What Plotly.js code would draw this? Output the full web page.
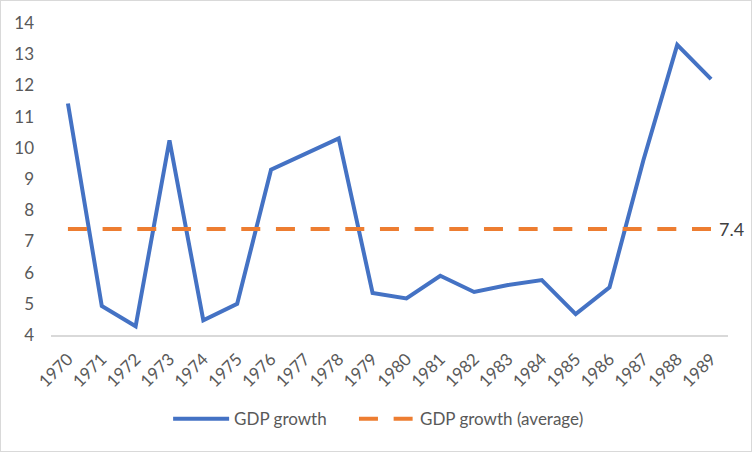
<!DOCTYPE html>
<html>
<head>
<meta charset="utf-8">
<script src="https://cdn.plot.ly/plotly-3.0.1.min.js"></script>
<style>
  html, body { margin: 0; padding: 0; background: #fff; }
  #chart { width: 750px; height: 450px; border: 1px solid #d9d9d9; }
</style>
</head>
<body>
<div id="chart"></div>
<script>
const years = ['1970','1971','1972','1973','1974','1975','1976','1977','1978','1979',
               '1980','1981','1982','1983','1984','1985','1986','1987','1988','1989'];
const gdpGrowth = [11.42, 4.93, 4.28, 10.24, 4.47, 5.0, 9.3, 9.8, 10.3, 5.35,
                   5.17, 5.9, 5.38, 5.6, 5.76, 4.67, 5.53, 9.6, 13.3, 12.2];
const averageValue = 7.4;
const gdpAverage = years.map(() => averageValue);
const yTicks = [4, 5, 6, 7, 8, 9, 10, 11, 12, 13, 14];

const fontFam = 'Lato, "Open Sans", "Liberation Sans", sans-serif';
const fs = 17;

const traces = [
  {
    x: years, y: gdpGrowth, type: 'scatter', mode: 'lines', name: 'GDP growth',
    line: { color: '#4472C4', width: 4 }, cliponaxis: false, legend: 'legend'
  },
  {
    x: years, y: gdpAverage, type: 'scatter', mode: 'lines', name: 'GDP growth (average)',
    cliponaxis: false, legend: 'legend2',
    line: { color: '#ED7D31', width: 4, dash: '19px,15.67px' }
  }
];

const legendBase = {
  orientation: 'h', xanchor: 'left', y: -0.27, yanchor: 'middle',
  font: { family: fontFam, size: fs, color: '#595959' },
  itemwidth: 56, bgcolor: 'rgba(0,0,0,0)'
};

const layout = {
  width: 750, height: 450,
  margin: { l: 50, r: 23, t: 21.5, b: 116 },
  paper_bgcolor: '#fff', plot_bgcolor: '#fff',
  font: { family: fontFam, size: fs, color: '#595959' },
  showlegend: true,
  legend: Object.assign({}, legendBase, { x: 0.173 }),
  legend2: Object.assign({}, legendBase, { x: 0.4475 }),
  annotations: [{
    x: years.length - 1, y: averageValue, xref: 'x', yref: 'y',
    text: String(averageValue), showarrow: false, xanchor: 'left', yanchor: 'middle',
    xshift: 6, font: { family: fontFam, size: 18, color: '#404040' }
  }],
  xaxis: {
    type: 'category', range: [-0.5, years.length - 0.5],
    tickangle: -45, showgrid: false, automargin: false,
    showline: true, linecolor: '#d9d9d9', linewidth: 1.5,
    ticks: '', ticklabelstandoff: 6,
    tickfont: { family: fontFam, size: fs, color: '#595959' },
    fixedrange: true
  },
  yaxis: {
    range: [4, 14], tickvals: yTicks, showgrid: false, zeroline: false, automargin: false,
    showline: false, ticks: '', ticklabelstandoff: 16,
    tickfont: { family: fontFam, size: fs, color: '#595959' },
    fixedrange: true
  }
};

Plotly.newPlot('chart', traces, layout, { displayModeBar: false, staticPlot: true });
</script>
</body>
</html>
